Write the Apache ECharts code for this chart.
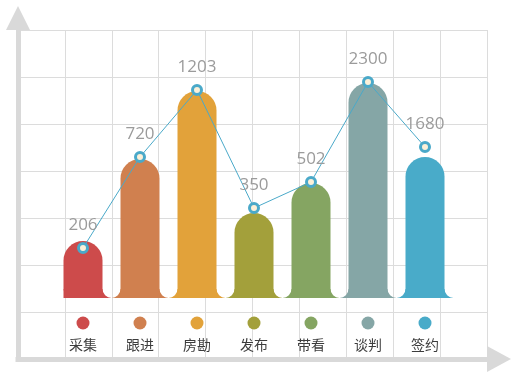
<!DOCTYPE html>
<html>
<head>
<meta charset="utf-8">
<script src="https://cdn.jsdelivr.net/npm/echarts@6/dist/echarts.min.js"></script>
<style>
html, body { margin: 0; padding: 0; background: #fff; }
#chart { width: 522px; height: 381px; }
</style>
</head>
<body>
<div id="chart"></div>
<script>
var categories = ['采集', '跟进', '房勘', '发布', '带看', '谈判', '签约']
var values = [206, 720, 1203, 350, 502, 2300, 1680]
// heights in the picture do not follow the values, read off as px above the base line
var barHeights = [57, 139, 207, 85, 115, 215, 141]
var pointHeights = [50, 141, 208, 90, 116, 216, 151]
var colors = ['#cd4b4b', '#d0804f', '#e2a23a', '#a3a03b', '#85a562', '#85a6a6', '#49abc9']

// foot of each bar: concave flares both sides, first one rounded on the left
var footPath = 'path://M0,9 A9,9 0 0 0 9,0 L48,0 A9,9 0 0 0 57,9 Z'
var firstFootPath = 'path://M0,0 L39,0 A9,9 0 0 0 48,9 L9,9 A9,9 0 0 1 0,0 Z'

var axisGray = '#d9d9d9'
var gridGray = '#dcdcdc'

var rich = {
  n: { fontSize: 14, lineHeight: 31, color: '#3c3c3c', fontFamily: 'Noto Sans CJK SC' }
}
colors.forEach(function (c, i) {
  rich['d' + i] = { width: 13, height: 13, lineHeight: 13, borderRadius: 6.5, backgroundColor: c }
})

var chart = echarts.init(document.getElementById('chart'))
chart.setOption({
  animation: false,
  grid: [
    { left: 18, right: 35, top: 30, bottom: 22 },
    { left: 54.5, right: 68.5, top: 30, bottom: 83 }
  ],
  xAxis: [
    {
      gridIndex: 0,
      type: 'value',
      min: 0,
      max: 10,
      interval: 1,
      offset: 2.5,
      axisLabel: { show: false },
      axisTick: { show: false },
      splitLine: { show: true, lineStyle: { color: gridGray, width: 1 } },
      axisLine: {
        show: true,
        symbol: ['none', 'triangle'],
        symbolSize: [26, 24],
        symbolOffset: [0, 12],
        lineStyle: { color: axisGray, width: 5, cap: 'square' }
      }
    },
    {
      gridIndex: 1,
      type: 'category',
      data: categories,
      axisLine: { show: false },
      axisTick: { show: false },
      axisLabel: {
        margin: 18.5,
        rich: rich,
        formatter: function (value, index) {
          return '{d' + index + '|}\n{n|' + value + '}'
        }
      }
    }
  ],
  yAxis: [
    {
      gridIndex: 0,
      type: 'value',
      min: 0,
      max: 7,
      interval: 1,
      offset: 2.5,
      axisLabel: { show: false },
      axisTick: { show: false },
      splitLine: { show: true, lineStyle: { color: gridGray, width: 1 } },
      axisLine: {
        show: true,
        symbol: ['none', 'triangle'],
        symbolSize: [24, 24],
        symbolOffset: [0, 12],
        lineStyle: { color: axisGray, width: 5, cap: 'square' }
      }
    },
    {
      gridIndex: 1,
      type: 'value',
      min: 0,
      max: 268,
      show: false,
      splitLine: { show: false }
    }
  ],
  series: [
    {
      type: 'bar',
      xAxisIndex: 1,
      yAxisIndex: 1,
      barWidth: 39,
      z: 2,
      data: barHeights.map(function (h, i) {
        return { value: h, itemStyle: { color: colors[i], borderRadius: [19.5, 19.5, 0, 0] } }
      })
    },
    {
      type: 'pictorialBar',
      xAxisIndex: 1,
      yAxisIndex: 1,
      symbolSize: [57, 9],
      symbolPosition: 'start',
      z: 2,
      data: barHeights.map(function (h, i) {
        if (i === 0) {
          return { value: h, symbol: firstFootPath, symbolSize: [48, 9], symbolOffset: [4.5, 0], itemStyle: { color: colors[i] } }
        }
        return { value: h, symbol: footPath, itemStyle: { color: colors[i] } }
      })
    },
    {
      type: 'line',
      xAxisIndex: 1,
      yAxisIndex: 1,
      z: 5,
      data: pointHeights,
      symbol: 'circle',
      symbolSize: 9,
      lineStyle: { color: '#4aa9c9', width: 1 },
      itemStyle: { color: '#fcf0d8', borderColor: '#4aa9c9', borderWidth: 3 },
      label: {
        show: true,
        position: 'top',
        distance: 8,
        color: '#9b9b9b',
        fontSize: 17,
        fontFamily: 'Open Sans',
        formatter: function (p) {
          return values[p.dataIndex]
        }
      }
    }
  ]
})
</script>
</body>
</html>
